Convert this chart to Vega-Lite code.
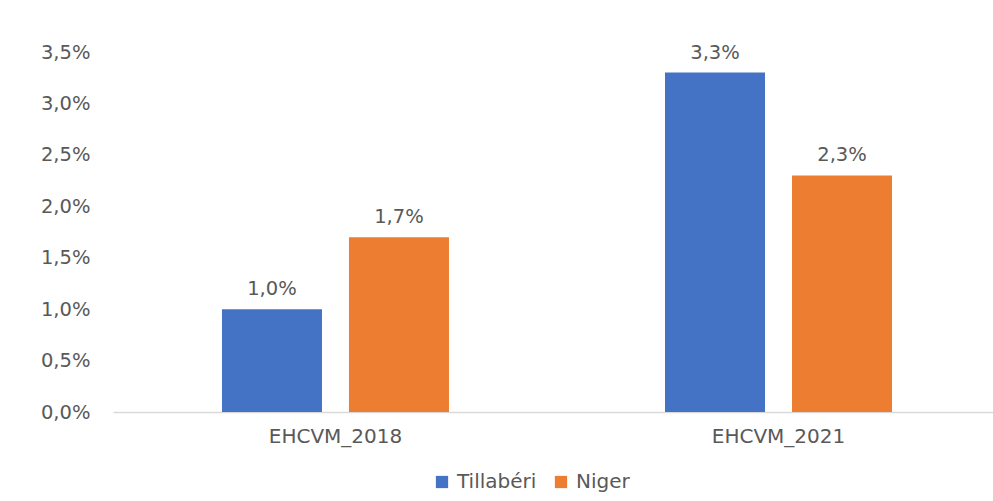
{
  "$schema": "https://vega.github.io/schema/vega-lite/v6.json",
  "autosize": "none",
  "width": 880,
  "height": 360,
  "padding": {"left": 113, "top": 52, "right": 0, "bottom": 89},
  "background": "white",
  "config": {
    "view": {"stroke": null},
    "font": "DejaVu Sans",
    "locale": {"number": {"decimal": ",", "thousands": " ", "grouping": [3], "currency": ["", " €"]}}
  },
  "data": {
    "values": [
      {"enquete": "EHCVM_2018", "zone": "Tillabéri", "valeur": 0.010},
      {"enquete": "EHCVM_2018", "zone": "Niger", "valeur": 0.017},
      {"enquete": "EHCVM_2021", "zone": "Tillabéri", "valeur": 0.033},
      {"enquete": "EHCVM_2021", "zone": "Niger", "valeur": 0.023}
    ]
  },
  "encoding": {
    "x": {
      "field": "enquete",
      "type": "nominal",
      "sort": null,
      "scale": {"paddingInner": 0.4876, "paddingOuter": 0.237, "align": 0.519},
      "axis": {
        "title": null,
        "labelAngle": 0,
        "ticks": false,
        "domainColor": "#d9d9d9",
        "domainWidth": 1.5,
        "labelColor": "#595959",
        "labelFont": "DejaVu Sans",
        "labelFontSize": 20,
        "labelPadding": 14
      }
    },
    "xOffset": {
      "field": "zone",
      "type": "nominal",
      "sort": ["Tillabéri", "Niger"],
      "scale": {"paddingInner": 0.2126, "paddingOuter": 0}
    },
    "y": {
      "field": "valeur",
      "type": "quantitative",
      "scale": {"domain": [0, 0.035], "nice": false},
      "axis": {
        "title": null,
        "values": [0, 0.005, 0.01, 0.015, 0.02, 0.025, 0.03, 0.035],
        "format": ".1%",
        "grid": false,
        "ticks": false,
        "domain": false,
        "labelColor": "#595959",
        "labelFont": "DejaVu Sans",
        "labelFontSize": 19.5,
        "labelPadding": 23
      }
    }
  },
  "layer": [
    {
      "mark": {"type": "bar"},
      "encoding": {
        "color": {
          "field": "zone",
          "type": "nominal",
          "sort": ["Tillabéri", "Niger"],
          "scale": {"domain": ["Tillabéri", "Niger"], "range": ["#4472C4", "#ED7D31"]},
          "legend": {
            "title": null,
            "orient": "none",
            "direction": "horizontal",
            "legendX": 319,
            "legendY": 420,
            "symbolType": "square",
            "symbolSize": 150,
            "symbolStrokeWidth": 0,
            "labelFont": "DejaVu Sans",
            "labelFontSize": 20,
            "labelColor": "#595959",
            "labelOffset": 5,
            "columnPadding": 14
          }
        }
      }
    },
    {
      "mark": {"type": "text", "baseline": "alphabetic", "dy": -14, "font": "DejaVu Sans", "fontSize": 19.5, "color": "#595959"},
      "encoding": {
        "text": {"field": "valeur", "type": "quantitative", "format": ".1%"}
      }
    }
  ]
}
